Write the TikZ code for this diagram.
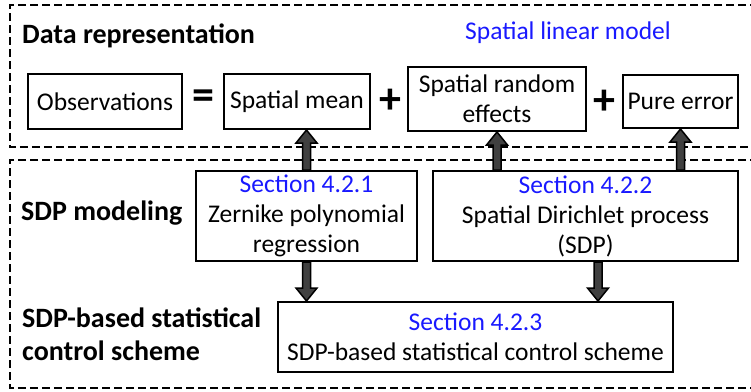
\documentclass[tikz,border=0pt]{standalone}
\usepackage{fontspec}
\setmainfont{Carlito}
\usetikzlibrary{calc}
\definecolor{secblue}{RGB}{25,25,255}
\definecolor{arrowgray}{RGB}{64,64,64}
\tikzset{
  box/.style={draw, line width=2pt, inner sep=0pt, align=center,
    font=\fontsize{25.5}{30}\selectfont},
  frame/.style={line width=2.6pt, dash pattern=on 8pt off 4pt},
  heading/.style={font=\fontsize{28}{33}\selectfont\bfseries, anchor=west, align=left, inner sep=0pt},
  sec/.style={text=secblue},
  op/.style={font=\fontsize{44}{44}\selectfont\bfseries, inner sep=0pt},
  % thick block arrow between two vertically aligned points
  blockarrow/.style={draw=black, fill=arrowgray, line width=1.5pt,
    to path={let \p1=(\tikztostart), \p2=(\tikztotarget), \n1={13*sign(\y2-\y1)} in
      ({\x1-4pt},\y1) -- ({\x1-4pt},{\y2-(\n1)}) -- ({\x1-10.5pt},{\y2-(\n1)}) -- (\x1,\y2)
      -- ({\x1+10.5pt},{\y2-(\n1)}) -- ({\x1+4pt},{\y2-(\n1)}) -- ({\x1+4pt},\y1) -- cycle}},
}
\begin{document}
\begin{tikzpicture}[x=1pt,y=-1pt]
\useasboundingbox (0,0) rectangle (751,391);
\fill[white] (0,0) rectangle (751,391);

% dashed group frames (open to the right)
\draw[frame] (770,5) -- (10,5) -- (10,147) -- (770,147);
\draw[frame] (770,160) -- (10,160) -- (10,388) -- (770,388);

% data representation
\node[heading] (dr) at (22,36) {Data representation};
\node[font=\fontsize{25.5}{30}\selectfont, text=secblue] (slm) at (568,33) {Spatial linear model};

\node[box, minimum width=154pt, minimum height=55pt] (obs) at (105,101.5) {Observations};
\node[op] (eq) at (203,100) {=};
\node[box, minimum width=146pt, minimum height=55pt] (mean) at (297,101.5) {Spatial mean};
\node[op] (plus1) at (390,101) {+};
\node[box, minimum width=178pt, minimum height=64pt] (re) at (497,99) {Spatial random\\effects};
\node[op] (plus2) at (604,102.5) {+};
\node[box, minimum width=115pt, minimum height=53pt] (pe) at (680.5,101.5) {Pure error};

% SDP modeling
\node[heading] (sdpm) at (21,213) {SDP modeling};
\node[heading] (sdpc) at (22,334) {SDP-based statistical\\control scheme};

\node[box, minimum width=221pt, minimum height=90pt] (zern) at (306.5,216)
  {\textcolor{secblue}{Section 4.2.1}\\Zernike polynomial\\regression};
\node[box, minimum width=305pt, minimum height=90pt] (sdp) at (585.5,216)
  {\textcolor{secblue}{Section 4.2.2}\\Spatial Dirichlet process\\(SDP)};
\node[box, minimum width=395pt, minimum height=70pt] (ctrl) at (475.5,337)
  {\textcolor{secblue}{Section 4.2.3}\\SDP-based statistical control scheme};

% block arrows
\draw[blockarrow] (zern.north) to (zern.north |- mean.south);
\draw[blockarrow] (sdp.north -| re.south) to (re.south);
\draw[blockarrow] (sdp.north -| pe.south) to (pe.south);
\draw[blockarrow] (zern.south) to (zern.south |- ctrl.north);
\draw[blockarrow] ([xshift=12.5pt]sdp.south) to ([xshift=12.5pt]sdp.south |- ctrl.north);
\end{tikzpicture}
\end{document}
